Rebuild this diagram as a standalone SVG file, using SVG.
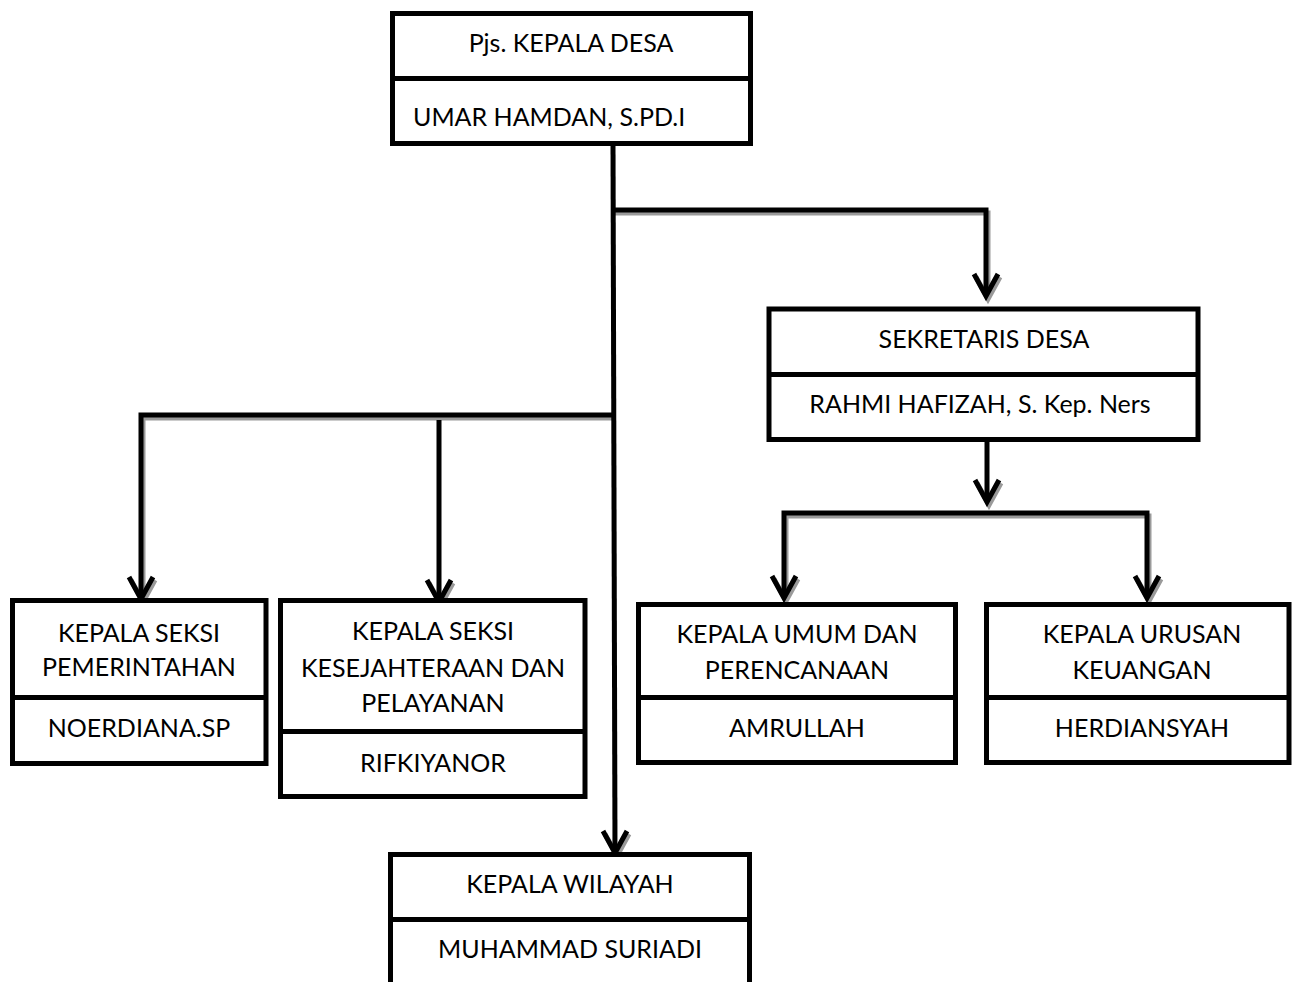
<svg xmlns="http://www.w3.org/2000/svg" width="1292" height="982" viewBox="0 0 1292 982">
<style>
.box{fill:#fff;stroke:#000;stroke-width:5}
.div{stroke:#000;stroke-width:5}
.t{font-family:Lato,"Open Sans",sans-serif;font-size:25px;fill:#000;text-anchor:middle}
.tl{text-anchor:start}
.c{fill:none;stroke:#000;stroke-width:5}
.s{fill:none;stroke:#9a9a9a;stroke-width:5}
</style>
<rect width="1292" height="982" fill="#fff"/>
<g id="connectors-shadow" transform="translate(2,3)">
<path class="s" d="M613,210 H986 V295"/>
<path class="s" d="M974,274 L986,296 L998,274"/>
<path class="s" d="M613,415 H141 V598"/>
<path class="s" d="M129,577 L141,599 L153,577"/>
<path class="s" d="M427,580 L439,602 L451,580"/>
<path class="s" d="M603,831 L615,853 L627,831"/>
<path class="s" d="M975,480 L987,502 L999,480"/>
<path class="s" d="M784,598 V513 H1147 V596"/>
<path class="s" d="M772,576 L784,598 L796,576"/>
<path class="s" d="M1135,576 L1147,598 L1159,576"/>
</g>
<g id="connectors">
<path class="c" d="M613,143 L615,852"/>
<path class="c" d="M613,210 H986 V295"/>
<path class="c" d="M974,274 L986,296 L998,274"/>
<path class="c" d="M613,415 H141 V598"/>
<path class="c" d="M129,577 L141,599 L153,577"/>
<path class="c" d="M439,420 V600"/>
<path class="c" d="M427,580 L439,602 L451,580"/>
<path class="c" d="M603,831 L615,853 L627,831"/>
<path class="c" d="M987,440 V500"/>
<path class="c" d="M975,480 L987,502 L999,480"/>
<path class="c" d="M784,598 V513 H1147 V596"/>
<path class="c" d="M772,576 L784,598 L796,576"/>
<path class="c" d="M1135,576 L1147,598 L1159,576"/>
</g>
<g id="kepala-desa">
<rect class="box" x="392.5" y="13.5" width="358" height="130"/>
<line class="div" x1="392.5" y1="78.5" x2="750.5" y2="78.5"/>
<text class="t" x="571" y="52">Pjs. KEPALA DESA</text>
<text class="t tl" x="413" y="126">UMAR HAMDAN, S.PD.I</text>
</g>
<g id="sekretaris-desa">
<rect class="box" x="769" y="309" width="429" height="130.5"/>
<line class="div" x1="769" y1="374.5" x2="1198" y2="374.5"/>
<text class="t" x="984" y="348">SEKRETARIS DESA</text>
<text class="t" x="980" y="413">RAHMI HAFIZAH, S. Kep. Ners</text>
</g>
<g id="kasi-pemerintahan">
<rect class="box" x="12.5" y="600.5" width="253.5" height="163"/>
<line class="div" x1="12.5" y1="697.5" x2="266" y2="697.5"/>
<text class="t" x="139" y="642">KEPALA SEKSI</text>
<text class="t" x="139" y="676">PEMERINTAHAN</text>
<text class="t" x="139" y="737">NOERDIANA.SP</text>
</g>
<g id="kasi-kesejahteraan">
<rect class="box" x="280.5" y="600.5" width="304.5" height="196"/>
<line class="div" x1="280.5" y1="731.5" x2="585" y2="731.5"/>
<text class="t" x="433" y="640">KEPALA SEKSI</text>
<text class="t" x="433" y="677">KESEJAHTERAAN DAN</text>
<text class="t" x="433" y="712">PELAYANAN</text>
<text class="t" x="433" y="772">RIFKIYANOR</text>
</g>
<g id="kaur-umum">
<rect class="box" x="638.5" y="604.5" width="317" height="158"/>
<line class="div" x1="638.5" y1="697.5" x2="955.5" y2="697.5"/>
<text class="t" x="797" y="643">KEPALA UMUM DAN</text>
<text class="t" x="797" y="679">PERENCANAAN</text>
<text class="t" x="797" y="737">AMRULLAH</text>
</g>
<g id="kaur-keuangan">
<rect class="box" x="986.5" y="604.5" width="302.5" height="158"/>
<line class="div" x1="986.5" y1="697.5" x2="1289" y2="697.5"/>
<text class="t" x="1142" y="643">KEPALA URUSAN</text>
<text class="t" x="1142" y="679">KEUANGAN</text>
<text class="t" x="1142" y="737">HERDIANSYAH</text>
</g>
<g id="kepala-wilayah">
<rect class="box" x="390.5" y="854.5" width="359" height="140"/>
<line class="div" x1="390.5" y1="919.5" x2="749.5" y2="919.5"/>
<text class="t" x="570" y="893">KEPALA WILAYAH</text>
<text class="t" x="570" y="958">MUHAMMAD SURIADI</text>
</g>
</svg>
